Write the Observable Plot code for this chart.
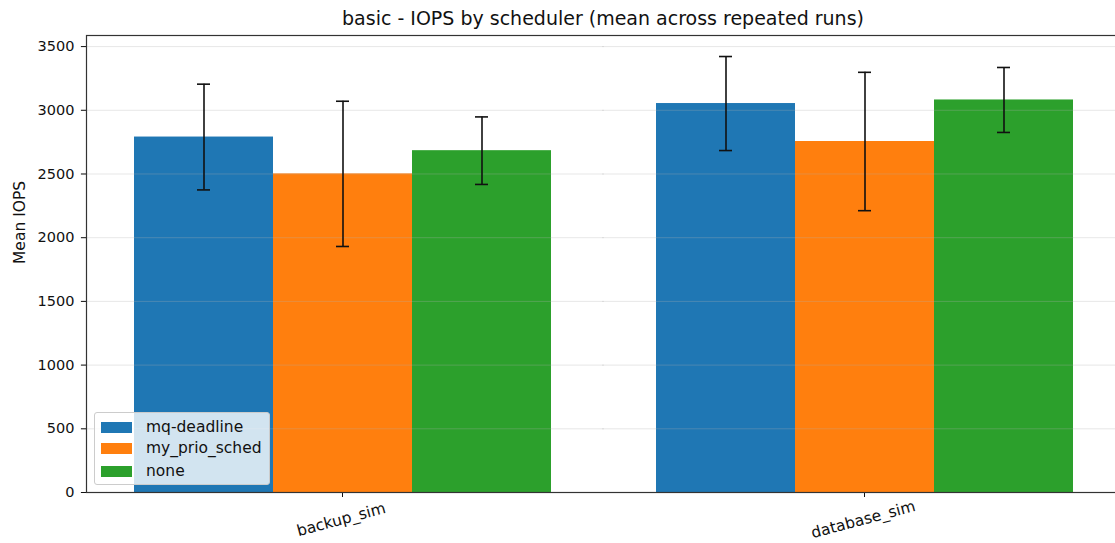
<!DOCTYPE html>
<html>
<head>
<meta charset="utf-8">
<script src="https://cdn.jsdelivr.net/npm/d3@7"></script>
<script src="https://cdn.jsdelivr.net/npm/@observablehq/plot@0.6"></script>
<style>
  html, body { margin: 0; padding: 0; background: #fff; overflow: hidden; }
  #wrap { position: relative; width: 1115px; height: 543px; overflow: hidden; font-family: "DejaVu Sans", sans-serif; }
  #title { position: absolute; left: 0; top: 0; width: 1206px; height: 30px; text-align: center; font-size: 19px; line-height: 36px; color: #111; }
  #chart { position: absolute; left: 0; top: 30px; width: 1130px; }
  #chart svg { max-width: none !important; }
  #legend { position: absolute; left: 94px; top: 412px; width: 174px; height: 71px; background: rgba(255,255,255,0.8); border: 1px solid #ccc; border-radius: 3px; z-index: 5; font-size: 15.5px; color: #111; }
  .item { position: absolute; left: 6px; height: 22px; display: flex; align-items: center; }
  .sw { width: 31px; height: 11px; margin-right: 14px; }
</style>
</head>
<body>
<div id="wrap">
  <div id="title"></div>
  <div id="chart"></div>
  <div id="legend"></div>
</div>
<script>
const categories = ["backup_sim", "database_sim"];
const schedulers = ["mq-deadline", "my_prio_sched", "none"];
const colors = ["#1f77b4", "#ff7f0e", "#2ca02c"];
const backupMean = [2790, 2501, 2683];
const backupErr = [415, 570, 265];
const databaseMean = [3053, 2755, 3081];
const databaseErr = [369, 543, 255];
const yTicks = [0, 500, 1000, 1500, 2000, 2500, 3000, 3500];
const titleText = "basic - IOPS by scheduler (mean across repeated runs)";
const yLabel = "Mean IOPS";

const means = {backup_sim: backupMean, database_sim: databaseMean};
const errs = {backup_sim: backupErr, database_sim: databaseErr};
const rows = [];
for (const c of categories) {
  schedulers.forEach((s, i) => {
    rows.push({category: c, scheduler: s, mean: means[c][i], err: errs[c][i]});
  });
}

document.getElementById("title").textContent = titleText;

const chart = Plot.plot({
  width: 1130,
  height: 513,
  marginLeft: 85,
  marginRight: 9,
  marginTop: 5,
  marginBottom: 51,
  style: {fontFamily: "DejaVu Sans, sans-serif", fontSize: "14.5px", color: "#111", background: "white", maxWidth: "none"},
  fx: {domain: categories, paddingInner: 0.019, paddingOuter: 0, axis: null},
  x: {domain: schedulers, paddingInner: 0, paddingOuter: 0.34, axis: null},
  y: {domain: [0, 3587], axis: null},
  color: {domain: schedulers, range: colors},
  marks: [
    Plot.barY(rows, {fx: "category", x: "scheduler", y: "mean", fill: "scheduler"}),
    Plot.gridY(yTicks, {stroke: "#b0b0b0", strokeOpacity: 0.3, strokeWidth: 1, insetLeft: -6, insetRight: -6}),
    Plot.ruleX(rows, {fx: "category", x: "scheduler", y1: d => d.mean - d.err, y2: d => d.mean + d.err, stroke: "#111", strokeWidth: 1.6}),
    Plot.tickY(rows, {fx: "category", x: "scheduler", y: d => d.mean - d.err, stroke: "#111", strokeWidth: 1.6, insetLeft: 63, insetRight: 63}),
    Plot.tickY(rows, {fx: "category", x: "scheduler", y: d => d.mean + d.err, stroke: "#111", strokeWidth: 1.6, insetLeft: 63, insetRight: 63}),
    Plot.axisY({ticks: yTicks, tickFormat: d => String(d), tickSize: 5, tickPadding: 7, label: null, fontSize: 14.5}),
    Plot.text([yLabel], {fx: () => categories[0], text: d => d, frameAnchor: "left", rotate: -90, dx: -66, fontSize: 15.5, fill: "#111"}),
    Plot.axisFx({anchor: "bottom", tickSize: 5, tickFormat: () => "", label: null}),
    Plot.text(categories, {fx: d => d, text: d => d, frameAnchor: "bottom", rotate: -15, dy: 32, fontSize: 15.5, fill: "#111"}),
    Plot.frame({facet: "super", stroke: "#333", strokeWidth: 1.2})
  ]
});
document.getElementById("chart").appendChild(chart);

const legend = document.getElementById("legend");
const tops = [3, 24, 47];
schedulers.forEach((s, i) => {
  const it = document.createElement("div");
  it.className = "item";
  it.style.top = tops[i] + "px";
  const sw = document.createElement("span");
  sw.className = "sw";
  sw.style.background = colors[i];
  const tx = document.createElement("span");
  tx.textContent = s;
  it.appendChild(sw);
  it.appendChild(tx);
  legend.appendChild(it);
});
</script>
</body>
</html>
